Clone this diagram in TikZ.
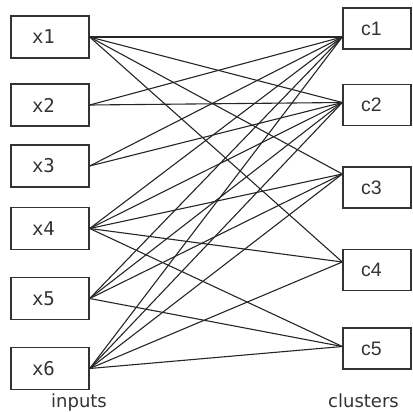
\documentclass[tikz,border=0pt]{standalone}
\usepackage{fontspec}
\setmainfont{DejaVu Sans}
\newfontfamily\inpfont{DejaVu Sans Mono}
\newfontfamily\clufont{Liberation Sans}
\usetikzlibrary{positioning}

\begin{document}
\begin{tikzpicture}[x=1pt,y=-1pt,
	inbox/.style={draw=black!80,line width=1.4pt,minimum height=42pt,text width=36pt,inner xsep=21pt,align=left,text=black!80,font=\inpfont\fontsize{19}{19}\selectfont},
	clubox/.style={draw=black!80,line width=1.4pt,minimum height=41pt,text width=32pt,inner xsep=18pt,align=left,text=black!80,font=\clufont\fontsize{19.5}{19.5}\selectfont},
	caption/.style={text=black!80,font=\fontsize{18}{18}\selectfont},
	link/.style={draw=black!85,line width=1.1pt}]
	\useasboundingbox (0,0) rectangle (412,412);
	% inputs
	\node[inbox] (x1) at (50,37) {x1};
	\node[inbox] (x2) at (50,105) {x2};
	\node[inbox] (x3) at (50,166) {x3};
	\node[inbox] (x4) at (50,228.5) {x4};
	\node[inbox] (x5) at (50,298.5) {x5};
	\node[inbox] (x6) at (50,368.5) {x6};
	% clusters
	\node[clubox] (c1) at (377,28.5) {c1};
	\node[clubox] (c2) at (377,105) {c2};
	\node[clubox] (c3) at (377,187.5) {c3};
	\node[clubox] (c4) at (377,270) {c4};
	\node[clubox] (c5) at (377,348.5) {c5};
	\coordinate (e1) at ([yshift=-8.5pt]c1.west);
	\coordinate (e2) at ([yshift=2.5pt]c2.west);
	\coordinate (e3) at ([yshift=13.5pt]c3.west);
	\coordinate (e4) at ([yshift=8pt]c4.west);
	\coordinate (e5) at ([yshift=2pt]c5.west);
	\node[caption] (inp) at (79,403) {inputs};
	\node[caption] (clu) at (363.5,401) {clusters};
	% links
	\foreach \i/\list in {1/{1,2,3,4},2/{1,2},3/{1,2},4/{1,2,3,4,5},5/{1,2,3,5},6/{1,2,3,4,5}}
		\foreach \j in \list
			\draw[link] (x\i.east) -- (e\j);
\end{tikzpicture}
\end{document}
